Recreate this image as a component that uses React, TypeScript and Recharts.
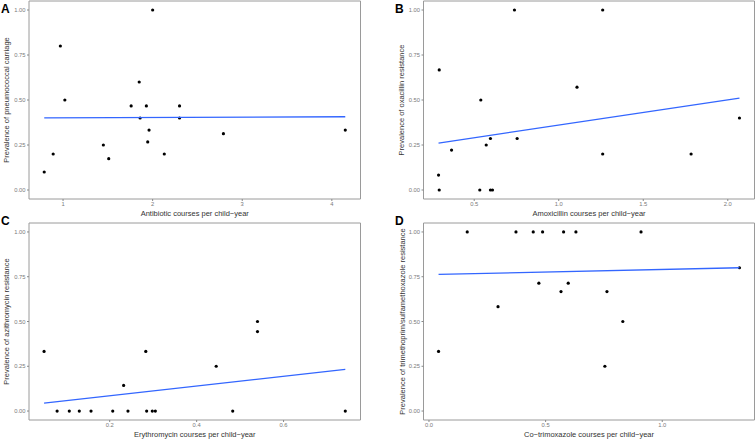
import { ReferenceArea, Scatter, ScatterChart, XAxis, YAxis } from "recharts";

// A: antibiotic courses vs carriage
const carriagePoints = [
  { x: 0.79, y: 0.1 },
  { x: 0.89, y: 0.2 },
  { x: 0.97, y: 0.8 },
  { x: 1.02, y: 0.5 },
  { x: 1.45, y: 0.25 },
  { x: 1.51, y: 0.174 },
  { x: 1.76, y: 0.467 },
  { x: 1.85, y: 0.6 },
  { x: 1.86, y: 0.4 },
  { x: 1.93, y: 0.467 },
  { x: 1.96, y: 0.333 },
  { x: 1.945, y: 0.267 },
  { x: 2.0, y: 1.0 },
  { x: 2.13, y: 0.2 },
  { x: 2.3, y: 0.467 },
  { x: 2.3, y: 0.4 },
  { x: 2.79, y: 0.313 },
  { x: 4.15, y: 0.333 },
];
const carriageFit = [
  { x: 0.79, y: 0.401 },
  { x: 4.15, y: 0.407 },
];

// B: amoxicillin vs oxacillin resistance
const oxacillinPoints = [
  { x: 0.293, y: 0.667 },
  { x: 0.289, y: 0.083 },
  { x: 0.293, y: 0 },
  { x: 0.366, y: 0.222 },
  { x: 0.533, y: 0 },
  { x: 0.539, y: 0.5 },
  { x: 0.571, y: 0.25 },
  { x: 0.596, y: 0.286 },
  { x: 0.596, y: 0 },
  { x: 0.608, y: 0 },
  { x: 0.738, y: 1.0 },
  { x: 0.754, y: 0.286 },
  { x: 1.108, y: 0.571 },
  { x: 1.26, y: 1.0 },
  { x: 1.26, y: 0.2 },
  { x: 1.783, y: 0.2 },
  { x: 2.069, y: 0.4 },
];
const oxacillinFit = [
  { x: 0.289, y: 0.261 },
  { x: 2.069, y: 0.51 },
];

// C: erythromycin vs azithromycin resistance
const azithroPoints = [
  { x: 0.049, y: 0.333 },
  { x: 0.079, y: 0 },
  { x: 0.107, y: 0 },
  { x: 0.13, y: 0 },
  { x: 0.157, y: 0 },
  { x: 0.207, y: 0 },
  { x: 0.232, y: 0.143 },
  { x: 0.242, y: 0 },
  { x: 0.283, y: 0.333 },
  { x: 0.285, y: 0 },
  { x: 0.298, y: 0 },
  { x: 0.305, y: 0 },
  { x: 0.445, y: 0.25 },
  { x: 0.483, y: 0 },
  { x: 0.54, y: 0.5 },
  { x: 0.54, y: 0.444 },
  { x: 0.742, y: 0 },
];
const azithroFit = [
  { x: 0.049, y: 0.044 },
  { x: 0.742, y: 0.233 },
];

// D: co-trimoxazole vs TMP/SMX resistance
const tmpSmxPoints = [
  { x: 0.041, y: 0.333 },
  { x: 0.164, y: 1.0 },
  { x: 0.296, y: 0.583 },
  { x: 0.373, y: 1.0 },
  { x: 0.447, y: 1.0 },
  { x: 0.471, y: 0.714 },
  { x: 0.487, y: 1.0 },
  { x: 0.566, y: 0.667 },
  { x: 0.577, y: 1.0 },
  { x: 0.597, y: 0.714 },
  { x: 0.63, y: 1.0 },
  { x: 0.754, y: 0.25 },
  { x: 0.763, y: 0.667 },
  { x: 0.831, y: 0.5 },
  { x: 0.909, y: 1.0 },
  { x: 1.331, y: 0.8 },
];
const tmpSmxFit = [
  { x: 0.041, y: 0.763 },
  { x: 1.331, y: 0.8 },
];

const prevalenceTicks = [0, 0.25, 0.5, 0.75, 1];
const antibioticTicks = [1, 2, 3, 4];
const amoxicillinTicks = [0.5, 1.0, 1.5, 2.0];
const erythromycinTicks = [0.2, 0.4, 0.6];
const cotrimoxazoleTicks = [0.0, 0.5, 1.0];

const FONT = "'Liberation Sans', Arial, Helvetica, sans-serif";
const FRAME = "#9a9a9a";

type Pt = { x: number; y: number };

type PanelProps = {
  left: number;
  top: number;
  height: number;
  points: Pt[];
  fit: Pt[];
  xDomain: [number, number];
  xTicks: number[];
  xDigits: number;
  xTitle: string;
  yTitle: string;
  yAxisWidth: number;
  yTitleX: number;
  marginTop: number;
  marginRight: number;
};

const Dot = (props: any) => <circle cx={props.cx} cy={props.cy} r={1.6} fill="#000" />;
const NoDot = () => <g />;

function ScatterPanel(p: PanelProps) {
  const width = 378;
  return (
    <div style={{ position: "absolute", left: p.left, top: p.top }}>
      <ScatterChart
        width={width}
        height={p.height}
        margin={{ top: p.marginTop, right: p.marginRight, bottom: 0, left: 0 }}
        style={{ fontFamily: FONT }}
      >
        <XAxis
          type="number"
          dataKey="x"
          domain={p.xDomain}
          allowDataOverflow
          ticks={p.xTicks}
          tickFormatter={(v) => (p.xDigits === 0 ? String(v) : Number(v).toFixed(p.xDigits))}
          height={21}
          axisLine={false}
          tickSize={2}
          tickMargin={1}
          tickLine={{ stroke: "#888" }}
          tick={{ fontSize: 5.8, fill: "#7a7a7a" }}
          label={{
            content: ({ viewBox }: any) => (
              <text
                x={viewBox.x + viewBox.width / 2}
                y={viewBox.y + 17}
                textAnchor="middle"
                fontSize={7.5}
                fill="#333"
              >
                {p.xTitle}
              </text>
            ),
          }}
        />
        <YAxis
          type="number"
          dataKey="y"
          domain={[-0.05, 1.05]}
          allowDataOverflow
          ticks={prevalenceTicks}
          tickFormatter={(v) => Number(v).toFixed(2)}
          width={p.yAxisWidth}
          axisLine={false}
          tickSize={2}
          tickMargin={1.5}
          tickLine={{ stroke: "#888" }}
          tick={{ fontSize: 5.8, fill: "#7a7a7a" }}
          label={{
            content: ({ viewBox }: any) => {
              const cx = viewBox.x + p.yTitleX;
              const cy = viewBox.y + viewBox.height / 2;
              return (
                <text
                  x={cx}
                  y={cy}
                  transform={`rotate(-90 ${cx} ${cy})`}
                  textAnchor="middle"
                  dominantBaseline="central"
                  fontSize={7.5}
                  fill="#333"
                >
                  {p.yTitle}
                </text>
              );
            },
          }}
        />
        <ReferenceArea
          x1={p.xDomain[0]}
          x2={p.xDomain[1]}
          y1={-0.05}
          y2={1.05}
          fill="none"
          stroke={FRAME}
          strokeWidth={1}
          ifOverflow="visible"
        />
        <Scatter data={p.points} shape={Dot} isAnimationActive={false} />
        <Scatter
          data={p.fit}
          shape={NoDot}
          line={{ stroke: "#3366FF", strokeWidth: 1.3 }}
          lineType="joint"
          isAnimationActive={false}
        />
      </ScatterChart>
    </div>
  );
}

export default function App() {
  return (
    <div
      style={{
        position: "absolute",
        left: 0,
        top: 0,
        width: 756,
        height: 441,
        background: "#fff",
        fontFamily: FONT,
      }}
    >
      <ScatterPanel
        left={0}
        top={0}
        height={220}
        points={carriagePoints}
        fit={carriageFit}
        xDomain={[0.62, 4.32]}
        xTicks={antibioticTicks}
        xDigits={0}
        xTitle="Antibiotic courses per child−year"
        yTitle="Prevalence of pneumococcal carriage"
        yAxisWidth={29}
        yTitleX={6}
        marginTop={1}
        marginRight={17.5}
      />
      <ScatterPanel
        left={378}
        top={0}
        height={220}
        points={oxacillinPoints}
        fit={oxacillinFit}
        xDomain={[0.2, 2.158]}
        xTicks={amoxicillinTicks}
        xDigits={1}
        xTitle="Amoxicillin courses per child−year"
        yTitle="Prevalence of oxacillin resistance"
        yAxisWidth={45.5}
        yTitleX={23.5}
        marginTop={1}
        marginRight={1.5}
      />
      <ScatterPanel
        left={0}
        top={220}
        height={221}
        points={azithroPoints}
        fit={azithroFit}
        xDomain={[0.0143, 0.777]}
        xTicks={erythromycinTicks}
        xDigits={1}
        xTitle="Erythromycin courses per child−year"
        yTitle="Prevalence of azithromycin resistance"
        yAxisWidth={29}
        yTitleX={6.5}
        marginTop={3}
        marginRight={17.5}
      />
      <ScatterPanel
        left={378}
        top={220}
        height={221}
        points={tmpSmxPoints}
        fit={tmpSmxFit}
        xDomain={[-0.0235, 1.3955]}
        xTicks={cotrimoxazoleTicks}
        xDigits={1}
        xTitle="Co−trimoxazole courses per child−year"
        yTitle="Prevalence of trimethoprim/sulfamethoxazole resistance"
        yAxisWidth={45.5}
        yTitleX={24.5}
        marginTop={3}
        marginRight={1.5}
      />
      <svg
        width={756}
        height={441}
        style={{ position: "absolute", left: 0, top: 0, pointerEvents: "none" }}
      >
        <g fontFamily={FONT} fontWeight="bold" fontSize={12} fill="#000">
          <text x={1} y={12.5}>A</text>
          <text x={395} y={12.7}>B</text>
          <text x={1} y={225}>C</text>
          <text x={395} y={225}>D</text>
        </g>
      </svg>
    </div>
  );
}
